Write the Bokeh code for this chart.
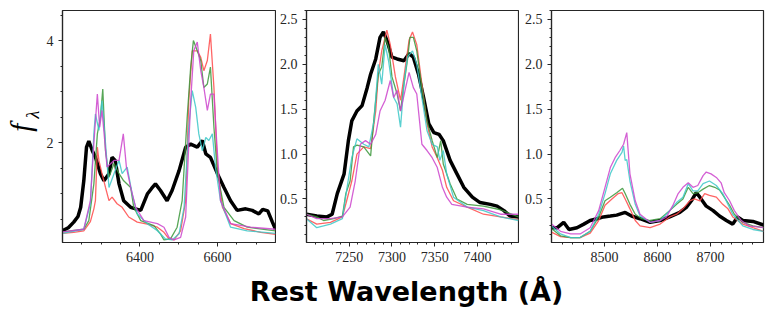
from bokeh.plotting import figure
from bokeh.layouts import row, column
from bokeh.models import FixedTicker, Range1d, Label, PrintfTickFormatter
from bokeh.core.properties import value
from bokeh.embed import file_html
from bokeh.resources import INLINE

# ---------------- data : H-alpha region ----------------
black1_w = [6200, 6215, 6229, 6240, 6247, 6255, 6262, 6268, 6277, 6285, 6298, 6307, 6320, 6328, 6336, 6346, 6358, 6376, 6402, 6419,
            6430, 6440, 6453, 6470, 6483, 6501, 6518, 6531, 6548, 6561, 6570, 6582, 6600, 6617, 6634, 6651, 6673, 6690, 6707,
            6717, 6730, 6742, 6750]
black1_f = [0.27, 0.33, 0.44, 0.55, 0.73, 1.25, 1.91, 2.03, 1.84, 1.71, 1.39, 1.25, 1.39, 1.71, 1.65, 1.19, 0.86, 0.73, 0.67, 0.99,
            1.10, 1.19, 1.06, 0.86, 1.06, 1.45, 1.91, 1.97, 1.91, 2.04, 1.78, 1.71, 1.39, 1.12, 0.86, 0.67, 0.70, 0.67, 0.60,
            0.69, 0.66, 0.44, 0.30]
red1_w = [6200, 6229, 6255, 6272, 6281, 6285, 6290, 6294, 6302, 6311, 6320, 6328, 6341, 6354, 6371, 6393, 6419, 6445, 6462, 6475,
          6488, 6505, 6518, 6526, 6535, 6548, 6557, 6565, 6574, 6582, 6591, 6600, 6613, 6634, 6669, 6712, 6750]
red1_f = [0.22, 0.24, 0.27, 0.45, 0.70, 0.86, 1.91, 1.65, 1.39, 1.12, 0.86, 0.93, 0.80, 0.73, 0.54, 0.44, 0.40, 0.34, 0.24, 0.11,
          0.09, 0.27, 0.86, 2.82, 3.80, 3.80, 3.67, 3.41, 3.61, 4.13, 3.08, 1.52, 0.73, 0.41, 0.31, 0.24, 0.20]
green1_w = [6200, 6255, 6268, 6281, 6290, 6298, 6304, 6311, 6320, 6333, 6346, 6358, 6376, 6384, 6402, 6436, 6453, 6462, 6479, 6496,
            6509, 6522, 6531, 6538, 6548, 6557, 6565, 6574, 6582, 6591, 6600, 6617, 6643, 6677, 6750]
green1_f = [0.25, 0.30, 0.47, 1.19, 2.17, 2.50, 3.05, 1.84, 1.32, 1.59, 1.39, 1.25, 1.12, 0.73, 0.47, 0.37, 0.21, 0.09, 0.11, 0.34,
            0.86, 2.50, 3.48, 4.00, 3.80, 3.61, 3.08, 3.15, 3.48, 2.30, 1.39, 0.73, 0.47, 0.34, 0.27]
cyan1_w = [6200, 6255, 6272, 6281, 6285, 6294, 6302, 6311, 6320, 6333, 6346, 6354, 6367, 6380, 6393, 6419, 6445, 6466, 6483, 6501,
           6514, 6526, 6535, 6544, 6552, 6561, 6570, 6578, 6587, 6595, 6608, 6634, 6677, 6750]
cyan1_f = [0.22, 0.30, 0.80, 2.17, 2.56, 2.24, 2.82, 1.99, 1.12, 1.39, 1.65, 1.39, 1.52, 0.99, 0.60, 0.41, 0.27, 0.11, 0.09, 0.21,
           0.73, 2.30, 3.02, 2.69, 2.17, 1.84, 2.10, 2.04, 2.17, 1.52, 0.86, 0.34, 0.27, 0.22]
magenta1_w = [6200, 6255, 6272, 6281, 6290, 6296, 6302, 6309, 6315, 6333, 6346, 6357, 6365, 6376, 6389, 6410, 6445, 6462, 6475,
              6488, 6505, 6518, 6531, 6539, 6548, 6557, 6565, 6574, 6582, 6591, 6598, 6608, 6634, 6686, 6750]
magenta1_f = [0.25, 0.30, 0.86, 1.99, 2.95, 2.30, 2.63, 2.04, 1.52, 1.65, 1.65, 2.17, 1.52, 1.12, 0.73, 0.47, 0.41, 0.34, 0.14,
              0.09, 0.14, 0.54, 2.82, 3.80, 3.97, 3.41, 3.08, 2.63, 2.95, 2.95, 2.04, 0.86, 0.41, 0.34, 0.30]

# ---------------- data : [Ca II] region ----------------
black2_w = [7200, 7212, 7224, 7230, 7236, 7244, 7249, 7253, 7259, 7265, 7271, 7275, 7281, 7286, 7290, 7294, 7300, 7306, 7314, 7320,
            7325, 7331, 7337, 7343, 7349, 7355, 7360, 7368, 7376, 7384, 7394, 7403, 7415, 7423, 7431, 7438, 7448]
black2_f = [0.33, 0.31, 0.30, 0.33, 0.56, 0.78, 1.15, 1.37, 1.48, 1.54, 1.74, 1.89, 2.06, 2.30, 2.36, 2.27, 2.08, 2.06, 2.04, 2.12,
            2.08, 1.89, 1.63, 1.34, 1.24, 1.22, 1.15, 0.93, 0.78, 0.63, 0.52, 0.46, 0.44, 0.42, 0.37, 0.31, 0.30]
red2_w = [7200, 7212, 7228, 7242, 7247, 7253, 7259, 7267, 7275, 7281, 7284, 7288, 7294, 7298, 7304, 7310, 7314, 7320, 7324, 7329,
          7335, 7341, 7347, 7353, 7359, 7364, 7372, 7388, 7407, 7427, 7448]
red2_f = [0.28, 0.22, 0.24, 0.30, 0.48, 0.70, 1.00, 1.08, 1.06, 1.48, 1.89, 2.15, 2.38, 2.22, 1.86, 1.60, 1.86, 2.27, 2.36, 2.22,
          1.78, 1.34, 1.08, 0.96, 0.82, 0.63, 0.48, 0.41, 0.33, 0.30, 0.27]
green2_w = [7200, 7212, 7220, 7232, 7242, 7246, 7251, 7255, 7259, 7267, 7275, 7279, 7284, 7288, 7292, 7296, 7300, 7306, 7310, 7314,
            7318, 7321, 7325, 7329, 7335, 7341, 7347, 7353, 7357, 7360, 7368, 7376, 7388, 7407, 7427, 7448]
green2_f = [0.33, 0.30, 0.26, 0.28, 0.31, 0.56, 0.70, 1.08, 1.10, 1.08, 0.98, 1.41, 1.89, 1.97, 2.30, 2.19, 1.86, 1.67, 1.48, 1.78,
            2.04, 2.30, 2.30, 2.15, 1.74, 1.37, 1.15, 0.96, 1.15, 0.89, 0.67, 0.50, 0.44, 0.42, 0.38, 0.30]
cyan2_w = [7200, 7212, 7228, 7242, 7247, 7253, 7259, 7267, 7273, 7279, 7284, 7288, 7292, 7296, 7302, 7306, 7310, 7314, 7318, 7324,
           7329, 7335, 7341, 7347, 7353, 7356, 7360, 7364, 7372, 7388, 7407, 7427, 7448]
cyan2_f = [0.28, 0.18, 0.22, 0.28, 0.60, 0.96, 1.17, 1.11, 1.08, 1.37, 2.00, 1.78, 2.22, 2.04, 1.63, 1.56, 1.30, 1.78, 2.08, 2.15,
           2.00, 1.63, 1.26, 1.11, 1.08, 0.93, 1.04, 0.78, 0.52, 0.41, 0.37, 0.30, 0.26]
magenta2_w = [7200, 7212, 7228, 7242, 7251, 7257, 7263, 7269, 7275, 7281, 7286, 7292, 7298, 7302, 7306, 7310, 7316, 7320, 7325,
              7329, 7335, 7341, 7347, 7353, 7359, 7364, 7370, 7388, 7407, 7427, 7442, 7448]
magenta2_f = [0.33, 0.28, 0.28, 0.30, 0.41, 0.70, 1.11, 1.15, 1.11, 1.22, 1.48, 1.60, 1.82, 1.63, 1.71, 1.48, 1.74, 1.91, 1.74,
              1.67, 1.11, 1.04, 0.96, 0.85, 0.63, 0.52, 0.44, 0.41, 0.39, 0.33, 0.33, 0.33]

# ---------------- data : Ca II triplet region ----------------
black3_w = [8400, 8411, 8423, 8433, 8448, 8461, 8473, 8486, 8498, 8511, 8523, 8539, 8551, 8567, 8586, 8605, 8623, 8642, 8655, 8664,
            8673, 8680, 8692, 8705, 8717, 8730, 8742, 8751, 8761, 8780, 8800]
black3_f = [0.18, 0.18, 0.24, 0.16, 0.18, 0.22, 0.26, 0.28, 0.30, 0.31, 0.32, 0.35, 0.31, 0.28, 0.24, 0.26, 0.30, 0.35, 0.41, 0.48,
            0.57, 0.52, 0.42, 0.37, 0.31, 0.26, 0.22, 0.30, 0.26, 0.25, 0.21]
red3_w = [8400, 8417, 8436, 8454, 8473, 8489, 8501, 8514, 8526, 8533, 8539, 8548, 8558, 8567, 8586, 8605, 8623, 8636, 8648, 8661,
          8670, 8680, 8689, 8698, 8711, 8723, 8733, 8742, 8761, 8780, 8800]
red3_f = [0.13, 0.08, 0.07, 0.07, 0.12, 0.26, 0.43, 0.50, 0.56, 0.57, 0.50, 0.39, 0.26, 0.20, 0.18, 0.22, 0.30, 0.33, 0.39, 0.48,
          0.50, 0.48, 0.56, 0.54, 0.52, 0.44, 0.39, 0.30, 0.22, 0.18, 0.14]
green3_w = [8400, 8417, 8436, 8454, 8473, 8489, 8501, 8511, 8523, 8534, 8539, 8548, 8558, 8570, 8586, 8605, 8623, 8636, 8648, 8658,
            8667, 8676, 8686, 8698, 8708, 8717, 8726, 8736, 8745, 8761, 8780, 8800]
green3_f = [0.17, 0.09, 0.07, 0.07, 0.14, 0.30, 0.48, 0.52, 0.57, 0.62, 0.56, 0.44, 0.33, 0.28, 0.26, 0.28, 0.37, 0.44, 0.50, 0.63,
            0.56, 0.57, 0.61, 0.65, 0.63, 0.60, 0.52, 0.43, 0.33, 0.24, 0.20, 0.18]
cyan3_w = [8400, 8417, 8436, 8454, 8473, 8489, 8501, 8511, 8523, 8533, 8536, 8539, 8542, 8548, 8558, 8567, 8586, 8605, 8623, 8636,
           8648, 8658, 8667, 8676, 8686, 8698, 8711, 8723, 8733, 8742, 8761, 8780, 8800]
cyan3_f = [0.20, 0.11, 0.07, 0.07, 0.14, 0.33, 0.56, 0.78, 0.93, 1.02, 1.09, 0.93, 0.94, 0.70, 0.44, 0.31, 0.24, 0.26, 0.37, 0.46,
           0.52, 0.67, 0.59, 0.59, 0.67, 0.70, 0.65, 0.56, 0.44, 0.33, 0.20, 0.16, 0.14]
magenta3_w = [8400, 8417, 8436, 8454, 8473, 8489, 8501, 8511, 8520, 8529, 8536, 8542, 8548, 8558, 8567, 8586, 8605, 8617, 8630,
              8639, 8648, 8658, 8667, 8676, 8686, 8692, 8701, 8711, 8720, 8726, 8736, 8745, 8758, 8773, 8800]
magenta3_f = [0.22, 0.14, 0.11, 0.11, 0.18, 0.37, 0.63, 0.85, 0.96, 1.04, 1.11, 1.24, 0.78, 0.48, 0.33, 0.24, 0.26, 0.30, 0.44,
              0.56, 0.63, 0.68, 0.63, 0.65, 0.76, 0.80, 0.78, 0.74, 0.68, 0.57, 0.48, 0.37, 0.26, 0.20, 0.18]

# ticks
x1_major = [6400, 6600]
x1_minor = [6250, 6300, 6350, 6450, 6500, 6550, 6650, 6700]
y1_major = [2, 4]
y1_minor = [0.5, 1.0, 1.5, 2.5, 3.0, 3.5, 4.5]
x2_major = [7250, 7300, 7350, 7400]
x2_minor = list(range(7210, 7450, 10))
x3_major = [8500, 8600, 8700]
x3_minor = list(range(8420, 8800, 20))
y23_major = [0.5, 1.0, 1.5, 2.0, 2.5]
y23_minor = [round(0.1 * i, 1) for i in range(1, 27)]

SERIES_COLORS = {"red": "#ff4a4a", "green": "#3a963a", "cyan": "#3cc8c8", "magenta": "#cc44cc"}
TICK_FONT = "Liberation Serif"
FRAME_H = 232
TOP = 10
BOTTOM = 20
FIG_H = TOP + FRAME_H + BOTTOM
STRIP_W = 41


def panel(xr, yr, xmaj, xmin, ymaj, ymin, fw, bl, br, yfmt):
    p = figure(frame_width=fw, frame_height=FRAME_H, x_range=Range1d(*xr), y_range=Range1d(*yr),
               min_border_left=bl, min_border_right=br, min_border_top=TOP, min_border_bottom=BOTTOM,
               output_backend="svg", toolbar_location=None)
    p.grid.visible = False
    p.outline_line_color = "#262626"
    p.outline_line_width = 1.2
    p.xaxis.ticker = FixedTicker(ticks=xmaj, minor_ticks=xmin)
    p.yaxis.ticker = FixedTicker(ticks=ymaj, minor_ticks=ymin)
    if yfmt:
        p.yaxis.formatter = PrintfTickFormatter(format=yfmt)
    for ax in (p.xaxis, p.yaxis):
        ax.major_tick_in = 0
        ax.major_tick_out = 4
        ax.minor_tick_in = 0
        ax.minor_tick_out = 2
        ax.axis_line_color = "#262626"
        ax.axis_line_width = 1.2
        ax.major_tick_line_color = "#262626"
        ax.minor_tick_line_color = "#262626"
        ax.major_label_text_font = TICK_FONT
        ax.major_label_text_font_size = "14px"
        ax.major_label_text_color = "#262626"
        ax.major_label_standoff = 5
    return p


def draw(p, black, series):
    p.line(black[0], black[1], line_color="black", line_width=3.5)
    for name, (w, f) in series:
        p.line(w, f, line_color=SERIES_COLORS[name], line_width=1.3, line_alpha=0.85)


p1 = panel((6200, 6750), (0.04, 4.59), x1_major, x1_minor, y1_major, y1_minor, 213, 62 - STRIP_W, 1, None)
draw(p1, (black1_w, black1_f), [("red", (red1_w, red1_f)), ("green", (green1_w, green1_f)),
                                ("cyan", (cyan1_w, cyan1_f)), ("magenta", (magenta1_w, magenta1_f))])
p2 = panel((7200, 7448), (0.015, 2.6), x2_major, x2_minor, y23_major, y23_minor, 212, 30, 1, "%.1f")
draw(p2, (black2_w, black2_f), [("red", (red2_w, red2_f)), ("green", (green2_w, green2_f)),
                                ("cyan", (cyan2_w, cyan2_f)), ("magenta", (magenta2_w, magenta2_f))])
p3 = panel((8400, 8800), (0.015, 2.6), x3_major, x3_minor, y23_major, y23_minor, 212, 32, 2, "%.1f")
draw(p3, (black3_w, black3_f), [("red", (red3_w, red3_f)), ("green", (green3_w, green3_f)),
                                ("cyan", (cyan3_w, cyan3_f)), ("magenta", (magenta3_w, magenta3_f))])

# y-axis label f_lambda in a narrow strip to the left (pixel-like coordinates, y measured from the bottom)
py = figure(width=STRIP_W, height=FIG_H, x_range=Range1d(0, STRIP_W), y_range=Range1d(0, FIG_H), min_border=0,
            x_axis_location=None, y_axis_location=None, output_backend="svg", toolbar_location=None)
py.grid.visible = False
py.outline_line_color = None
py.text(x=[20], y=[FIG_H - 138], text=["f"], angle=1.5708, text_font=value("Liberation Serif"),
        text_font_style="italic", text_font_size="29px", text_color="black",
        text_baseline="alphabetic", text_align="left")
py.text(x=[32], y=[FIG_H - 123], text=["λ"], angle=1.5708, text_font=value("Liberation Serif"),
        text_font_style="italic", text_font_size="18px", text_color="black",
        text_baseline="alphabetic", text_align="left")

# common x-axis label
pl = figure(width=765, height=48, x_range=Range1d(0, 765), y_range=Range1d(0, 48), min_border=0,
            x_axis_location=None, y_axis_location=None, output_backend="svg", toolbar_location=None)
pl.grid.visible = False
pl.outline_line_color = None
pl.add_layout(Label(x=406, y=21, text="Rest Wavelength (Å)", text_align="center", text_baseline="alphabetic",
                    text_font="DejaVu Sans", text_font_style="bold", text_font_size="27px", text_color="black"))

layout = column(row(py, p1, p2, p3), pl)
open("out.html", "w").write(file_html(layout, INLINE))
